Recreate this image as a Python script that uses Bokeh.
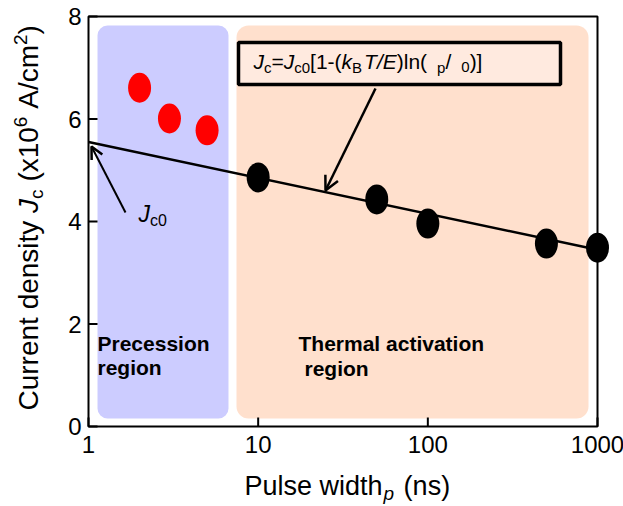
import math
from bokeh.plotting import figure
from bokeh.models import BoxAnnotation, Label, Arrow, OpenHead, Range1d, LogScale
from bokeh.core.properties import value
from bokeh.embed import file_html
from bokeh.resources import INLINE

# ---------------- data ----------------
precession_width_ns = [2, 3, 5]
precession_jc = [6.61, 6.01, 5.78]
thermal_width_ns = [10, 50, 100, 500, 1000]
thermal_jc = [4.86, 4.43, 3.96, 3.57, 3.49]
fit_width_ns = [1, 1000]
fit_jc = [5.55, 3.45]
x_ticks = [1, 10, 100, 1000]
x_tick_labels = ["1", "10", "100", "1000"]
y_ticks = [0, 2, 4, 6, 8]
y_tick_labels = ["0", "2", "4", "6", "8"]

# ---------------- layout ----------------
W, H = 623, 506
FL, FR, FT, FB = 88, 597, 16, 426     # plot-area edges in pixels
FONT = "Liberation Sans"
K_BASE = 0.35   # label anchor correction (fraction of font size)


def xd(px):
    return 10 ** ((px - FL) / (FR - FL) * math.log10(x_ticks[-1] / x_ticks[0])) * x_ticks[0]


def yd(py):
    return y_ticks[0] + (FB - py) / (FB - FT) * (y_ticks[-1] - y_ticks[0])


# Arial / Liberation Sans advance widths (per 1000 em)
AW = {' ': 278, '(': 333, ')': 333, '[': 278, ']': 278, '/': 278, '-': 333,
      '=': 584, 'A': 667, 'B': 667, 'C': 722, 'E': 667, 'J': 500, 'P': 667,
      'T': 611, 'a': 556, 'c': 500, 'd': 556, 'e': 556, 'h': 556, 'i': 222,
      'k': 500, 'l': 222, 'm': 833, 'n': 556, 'p': 556, 'r': 333, 's': 500,
      't': 278, 'u': 556, 'w': 722, 'x': 500, 'y': 500}
for d in "0123456789":
    AW[d] = 556


def tw(s, size):
    return sum(AW.get(ch, 556) for ch in s) / 1000.0 * size


p = figure(width=W, height=H,
           x_range=Range1d(xd(0), xd(W)), y_range=Range1d(yd(H), yd(0)),
           x_axis_location=None, y_axis_location=None,
           output_backend="svg", toolbar_location=None, min_border=0)
p.x_scale = LogScale()
p.grid.visible = False
p.background_fill_color = "white"
p.border_fill_color = "white"
p.outline_line_color = None

# region backgrounds
p.add_layout(BoxAnnotation(left=xd(97), right=xd(228), top=yd(25), bottom=yd(418),
                           fill_color="#CCCCFF", fill_alpha=1, line_color=None,
                           border_radius=10, level="underlay"))
p.add_layout(BoxAnnotation(left=xd(236), right=xd(588), top=yd(25), bottom=yd(418),
                           fill_color="#FFE0CD", fill_alpha=1, line_color=None,
                           border_radius=12, level="underlay"))

# axes frame, ticks and tick labels
p.add_layout(BoxAnnotation(left=x_ticks[0], right=x_ticks[-1], bottom=y_ticks[0],
                           top=y_ticks[-1], fill_alpha=0, line_color="black",
                           line_alpha=1, line_width=2, level="underlay"))
p.ray(x=x_ticks, y=[y_ticks[0]] * len(x_ticks), length=9, length_units="screen",
      angle=math.pi / 2, line_color="black", line_width=2)
p.ray(x=[x_ticks[0]] * len(y_ticks), y=y_ticks, length=9, length_units="screen",
      angle=0, line_color="black", line_width=2)
p.text(x=x_ticks, y=[y_ticks[0]] * len(x_ticks), text=x_tick_labels,
       text_font=value(FONT), text_font_size="24px", text_color="black",
       text_align="center", text_baseline="top", y_offset=9)
p.text(x=[x_ticks[0]] * len(y_ticks), y=y_ticks, text=y_tick_labels,
       text_font=value(FONT), text_font_size="24px", text_color="black",
       text_align="right", text_baseline="middle", x_offset=-7)

# fit line and points
p.line(fit_width_ns, fit_jc, line_color="black", line_width=2.5)
p.ellipse(x=precession_width_ns, y=precession_jc, width=23, height=30,
          width_units="screen", height_units="screen",
          fill_color="#FF0000", line_color=None)
p.ellipse(x=thermal_width_ns, y=thermal_jc, width=23, height=30,
          width_units="screen", height_units="screen",
          fill_color="black", line_color=None)

# formula box
p.add_layout(BoxAnnotation(left=xd(238), right=xd(560), top=yd(42), bottom=yd(84),
                           fill_color="#FFEADF", fill_alpha=1, line_color="black",
                           line_alpha=1, line_width=3.5))


def add_run(pieces, x0, y0, vertical=False, color="black"):
    """pieces: (text, size, style, shift) or ('GAP', px); (x0, y0) = baseline start"""
    pos = x0 if not vertical else y0
    for pc in pieces:
        if pc[0] == "GAP":
            pos += pc[1] if not vertical else -pc[1]
            continue
        text, size, style, shift = pc
        corr = K_BASE * size
        if vertical:
            lab = Label(x=xd(x0 + shift - corr), y=yd(pos), text=text, angle=math.pi / 2)
            pos -= tw(text, size)
        else:
            lab = Label(x=xd(pos), y=yd(y0 + shift - corr), text=text)
            pos += tw(text, size)
        lab.text_font = FONT
        lab.text_font_size = f"{size}px"
        lab.text_font_style = style
        lab.text_color = color
        lab.text_align = "left"
        lab.text_baseline = "alphabetic"
        p.add_layout(lab)


# formula text
add_run([("J", 21, "italic", 0), ("c", 15, "normal", 4), ("=", 21, "normal", 0),
         ("J", 21, "italic", 0), ("c0", 15, "normal", 4), ("[1-(", 21, "normal", 0),
         ("k", 21, "italic", 0), ("B", 15, "normal", 4), ("GAP", 2),
         ("T/E", 21, "italic", 0), (")ln(", 21, "normal", 0), ("GAP", 10),
         ("p", 15, "normal", 4), ("/", 21, "normal", 0), ("GAP", 10),
         ("0", 15, "normal", 4), (")]", 21, "normal", 0)], 253, 68)

# Jc0 label
add_run([("J", 23, "italic", 0), ("c0", 16, "normal", 4)], 138, 222)

# region texts
add_run([("Precession", 21, "bold", 0)], 97, 350)
add_run([("region", 21, "bold", 0)], 97, 374)
add_run([("Thermal activation", 21, "bold", 0)], 298, 350)
add_run([("region", 21, "bold", 0)], 304, 375)

# axis titles
add_run([("Pulse width", 27, "normal", 0), ("GAP", 1), ("p", 19, "italic", 5),
         ("GAP", 2 + tw(" ", 27)), ("(ns)", 27, "normal", 0)], 244, 495)
add_run([("Current density", 28, "normal", 0), ("GAP", tw(" ", 28)),
         ("J", 28, "italic", 0), ("c", 19, "normal", 5), ("GAP", tw(" ", 28)),
         ("(x10", 28, "normal", 0), ("6", 19, "normal", -11), ("GAP", tw(" ", 28)),
         ("A/cm", 28, "normal", 0), ("2", 19, "normal", -11), (")", 28, "normal", 0)],
        38, 410, vertical=True)

# arrows
p.add_layout(Arrow(end=OpenHead(size=14, line_width=2.5, line_color="black"),
                   x_start=xd(375), y_start=yd(88), x_end=xd(325), y_end=yd(190),
                   line_color="black", line_width=2.5))
p.add_layout(Arrow(end=OpenHead(size=12, line_width=2.5, line_color="black"),
                   x_start=xd(125), y_start=yd(212), x_end=xd(91), y_end=yd(146),
                   line_color="black", line_width=2))

open("out.html", "w").write(file_html(p, INLINE))
